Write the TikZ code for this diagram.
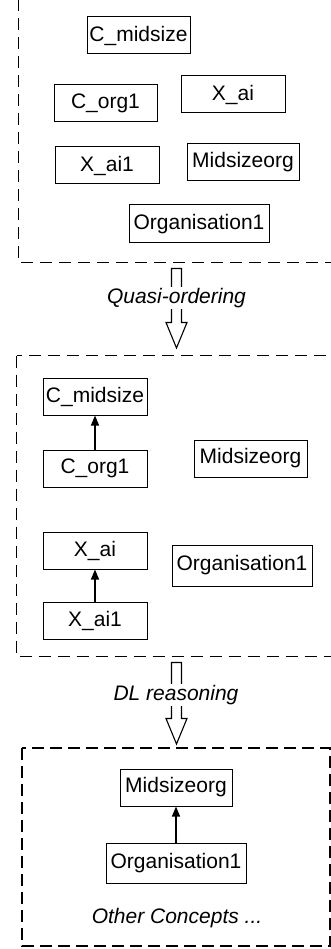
\documentclass[tikz,border=0pt]{standalone}
\usepackage{fontspec}
\setmainfont{Liberation Sans}
\usetikzlibrary{arrows.meta}
\begin{document}
\begin{tikzpicture}[x=1pt,y=-1pt,
  every node/.style={font=\fontsize{21pt}{25pt}\selectfont},
  cbox/.style={draw,line width=1pt,inner sep=0pt,minimum height=37pt},
  group/.style={draw,line width=1pt,dash pattern=on 12pt off 7pt},
  groupb/.style={draw,line width=1.6pt,dash pattern=on 12pt off 6pt},
  hollow/.style={draw,line width=1.1pt,fill=white},
  lab/.style={fill=white,inner sep=1pt,font=\fontsize{21pt}{25pt}\selectfont\itshape},
  sub/.style={-{Triangle[length=10pt,width=8pt]},line width=1.3pt}]
\useasboundingbox (0,0) rectangle (331,949);
% group 1
\draw[group] (18.5,-20) rectangle (345,262.5);
\node[cbox,minimum width=103pt] (a1) at (138.5,35.5) {C\_midsize};
\node[cbox,minimum width=103pt] (a2) at (105.5,103.5) {C\_org1};
\node[cbox,minimum width=104pt] (a3) at (233,94.5) {X\_ai};
\node[cbox,minimum width=104pt] (a4) at (107,165.5) {X\_ai1};
\node[cbox,minimum width=112pt] (a5) at (243,162.5) {Midsizeorg};
\node[cbox,minimum width=140pt,minimum height=38pt] (a6) at (199,224) {Organisation1};
% arrow 1
\draw[hollow] (171.5,268.5) -- (181.5,268.5) -- (181.5,322.5) -- (187,322.5) -- (176.5,348) -- (166,322.5) -- (171.5,322.5) -- cycle;
\node[lab] (q) at (176.5,298) {Quasi-ordering};
% group 2
\draw[group] (16.5,355.5) rectangle (345,656.5);
\node[cbox,minimum width=104pt] (b1) at (95,396.5) {C\_midsize};
\node[cbox,minimum width=104pt] (b2) at (95,468.5) {C\_org1};
\node[cbox,minimum width=113pt] (b3) at (250.5,458.5) {Midsizeorg};
\node[cbox,minimum width=104pt] (b4) at (95,550.5) {X\_ai};
\node[cbox,minimum width=140pt,minimum height=41pt] (b5) at (242,565.5) {Organisation1};
\node[cbox,minimum width=104pt] (b6) at (95,620.5) {X\_ai1};
\draw[sub] (b2) -- (b1);
\draw[sub] (b6) -- (b4);
% arrow 2
\draw[hollow] (171.5,662.5) -- (181.5,662.5) -- (181.5,718.5) -- (187,718.5) -- (176.5,744) -- (166,718.5) -- (171.5,718.5) -- cycle;
\node[lab] (d) at (176,695) {DL reasoning};
% group 3
\draw[groupb] (22,748) rectangle (330,946);
\node[cbox,minimum width=112pt] (c1) at (176,787.5) {Midsizeorg};
\node[cbox,minimum width=140pt,minimum height=40pt] (c2) at (176,863) {Organisation1};
\draw[sub] (c2) -- (c1);
\node[font=\fontsize{21pt}{25pt}\selectfont\itshape] (oc) at (177,918) {Other Concepts ...};
\end{tikzpicture}
\end{document}
